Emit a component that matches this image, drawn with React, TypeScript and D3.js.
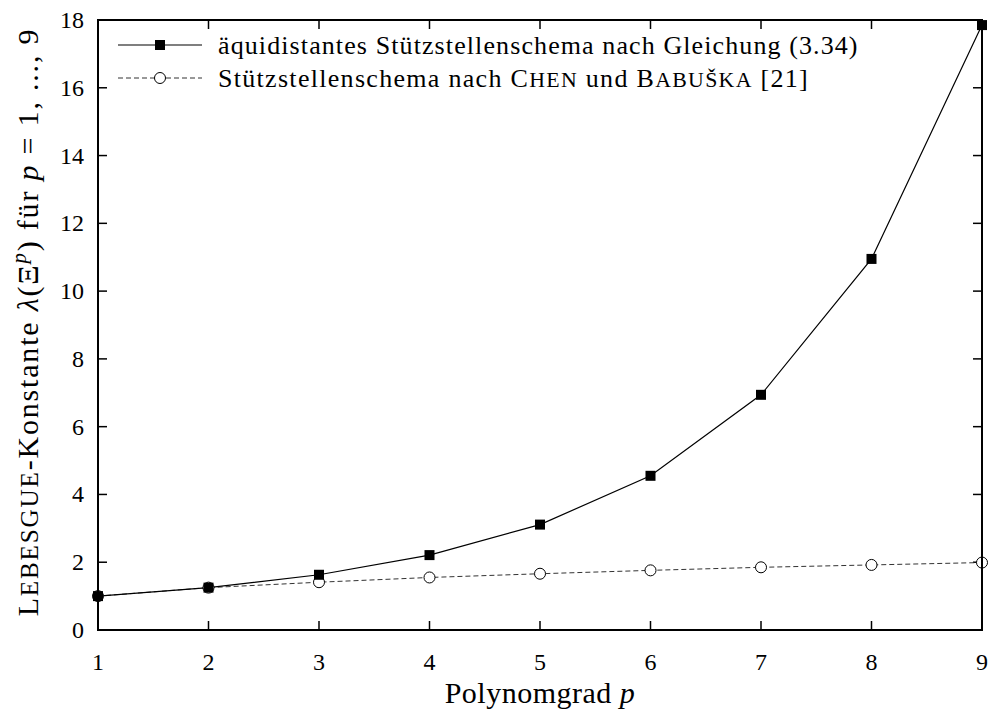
import React, { useRef, useEffect } from 'react';
import * as d3 from 'd3';

// Polynomgrad p
const degrees = [1, 2, 3, 4, 5, 6, 7, 8, 9];
// äquidistantes Stützstellenschema
const equidistant = [1.0, 1.25, 1.63, 2.21, 3.11, 4.55, 6.94, 10.95, 17.85];
// Schema nach Chen und Babuška
const chenBabuska = [1.0, 1.25, 1.41, 1.55, 1.66, 1.76, 1.85, 1.92, 1.99];
const yTicks = [0, 2, 4, 6, 8, 10, 12, 14, 16, 18];

const App = () => {
  const svgRef = useRef<SVGSVGElement>(null);
  const width = 992;
  const height = 715;
  const margin = { top: 20, right: 10, bottom: 85, left: 98 };
  const font = "'Liberation Serif', 'DejaVu Serif', serif";

  useEffect(() => {
    const svg = d3.select(svgRef.current);
    svg.selectAll('*').remove();

    const x = d3.scaleLinear().domain([1, 9]).range([margin.left, width - margin.right]);
    const y = d3.scaleLinear().domain([0, 18]).range([height - margin.bottom, margin.top]);
    const x0 = x(1), x1 = x(9), y0 = y(0), y1 = y(18);

    // fake small caps: first letter full size, rest upper case smaller
    const smallCaps = (sel: any, word: string, size: number) => {
      sel.append('tspan').text(word[0]);
      sel.append('tspan').attr('font-size', size * 0.84).text(word.slice(1).toUpperCase());
    };

    // ticks on all four sides, pointing inward
    const tl = 9;
    const g = svg.append('g').attr('stroke', '#000').attr('stroke-width', 1.5);
    degrees.forEach(d => {
      g.append('line').attr('x1', x(d)).attr('x2', x(d)).attr('y1', y0).attr('y2', y0 - tl);
      g.append('line').attr('x1', x(d)).attr('x2', x(d)).attr('y1', y1).attr('y2', y1 + tl);
    });
    yTicks.forEach(t => {
      g.append('line').attr('x1', x0).attr('x2', x0 + tl).attr('y1', y(t)).attr('y2', y(t));
      g.append('line').attr('x1', x1).attr('x2', x1 - tl).attr('y1', y(t)).attr('y2', y(t));
    });

    svg.append('g')
      .selectAll('text')
      .data(degrees)
      .join('text')
      .attr('x', d => x(d))
      .attr('y', y0 + 40)
      .attr('text-anchor', 'middle')
      .attr('font-family', font)
      .attr('font-size', 24)
      .text(d => d);

    svg.append('g')
      .selectAll('text')
      .data(yTicks)
      .join('text')
      .attr('x', x0 - 14)
      .attr('y', d => y(d) + 8)
      .attr('text-anchor', 'end')
      .attr('font-family', font)
      .attr('font-size', 24)
      .text(d => d);

    const line = d3.line<number>().x((_, i) => x(degrees[i])).y(d => y(d));

    svg.append('path')
      .attr('d', line(chenBabuska))
      .attr('fill', 'none')
      .attr('stroke', '#333')
      .attr('stroke-width', 1)
      .attr('stroke-dasharray', '5,3');

    svg.append('path')
      .attr('d', line(equidistant))
      .attr('fill', 'none')
      .attr('stroke', '#000')
      .attr('stroke-width', 1.2);

    svg.append('g')
      .selectAll('circle')
      .data(chenBabuska)
      .join('circle')
      .attr('cx', (_, i) => x(degrees[i]))
      .attr('cy', d => y(d))
      .attr('r', 5.5)
      .attr('fill', 'white')
      .attr('stroke', '#000')
      .attr('stroke-width', 1);

    const s = 10;
    svg.append('g')
      .selectAll('rect')
      .data(equidistant)
      .join('rect')
      .attr('x', (_, i) => x(degrees[i]) - s / 2)
      .attr('y', d => y(d) - s / 2)
      .attr('width', s)
      .attr('height', s)
      .attr('fill', '#000');

    // frame
    svg.append('rect')
      .attr('x', x0).attr('y', y1)
      .attr('width', x1 - x0).attr('height', y0 - y1)
      .attr('fill', 'none').attr('stroke', '#000').attr('stroke-width', 2);

    // legend
    const lx1 = 118, lx2 = 202, lm = 160;
    const leg = svg.append('g');
    leg.append('line').attr('x1', lx1).attr('x2', lx2).attr('y1', 45).attr('y2', 45)
      .attr('stroke', '#000').attr('stroke-width', 1.2);
    leg.append('rect').attr('x', lm - 5).attr('y', 40).attr('width', 10).attr('height', 10).attr('fill', '#000');
    leg.append('line').attr('x1', lx1).attr('x2', lx2).attr('y1', 78).attr('y2', 78)
      .attr('stroke', '#333').attr('stroke-width', 1).attr('stroke-dasharray', '5,3');
    leg.append('circle').attr('cx', lm).attr('cy', 78).attr('r', 5.5)
      .attr('fill', 'white').attr('stroke', '#000');

    const ls = 26;
    leg.append('text').attr('x', 218).attr('y', 54)
      .attr('font-family', font).attr('font-size', ls).attr('letter-spacing', 1.1)
      .text('äquidistantes Stützstellenschema nach Gleichung (3.34)');
    const t2 = leg.append('text').attr('x', 218).attr('y', 87)
      .attr('font-family', font).attr('font-size', ls).attr('letter-spacing', 1.3);
    t2.append('tspan').text('Stützstellenschema nach ');
    smallCaps(t2, 'Chen', ls);
    t2.append('tspan').text(' und ');
    smallCaps(t2, 'Babuška', ls);
    t2.append('tspan').text(' [21]');

    // axis titles
    const xt = svg.append('text')
      .attr('x', (x0 + x1) / 2).attr('y', 703)
      .attr('text-anchor', 'middle')
      .attr('font-family', font).attr('font-size', 30).attr('letter-spacing', 0.5);
    xt.append('tspan').text('Polynomgrad ');
    xt.append('tspan').attr('font-style', 'italic').text('p');

    const ys = 30;
    const yt = svg.append('text')
      .attr('transform', `translate(38, ${(y0 + y1) / 2 - 3}) rotate(-90)`)
      .attr('text-anchor', 'middle')
      .attr('font-family', font).attr('font-size', ys).attr('letter-spacing', 1.8);
    smallCaps(yt, 'Lebesgue', ys);
    yt.append('tspan').text('-Konstante ');
    yt.append('tspan').attr('font-style', 'italic').text('λ');
    yt.append('tspan').text('(Ξ');
    yt.append('tspan').attr('font-style', 'italic').attr('font-size', 21).attr('dy', -12).text('p');
    yt.append('tspan').attr('dy', 12).text(') für ');
    yt.append('tspan').attr('font-style', 'italic').text('p');
    yt.append('tspan').text(' = 1, ..., 9');
  }, []);

  return (
    <svg ref={svgRef} width={width} height={height}
      style={{ position: 'absolute', left: 0, top: 0, background: 'white' }} />
  );
};

export default App;
